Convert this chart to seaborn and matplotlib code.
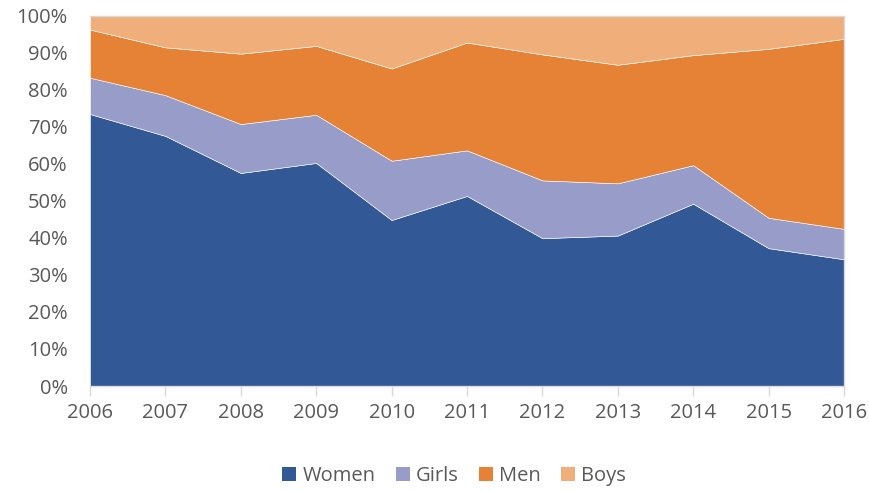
import matplotlib
matplotlib.use("Agg")
import matplotlib.pyplot as plt
import seaborn as sns
import numpy as np
import pandas as pd
from matplotlib.ticker import FuncFormatter
from matplotlib.patches import Patch

years = [2006, 2007, 2008, 2009, 2010, 2011, 2012, 2013, 2014, 2015, 2016]
women = [73.4, 67.5, 57.5, 60.2, 44.8, 51.3, 39.9, 40.6, 49.2, 37.2, 34.2]
girls = [9.8, 11.0, 13.2, 13.0, 16.0, 12.3, 15.6, 14.1, 10.4, 8.2, 8.2]
men = [13.0, 12.9, 19.0, 18.6, 24.9, 29.1, 34.0, 32.0, 29.7, 45.6, 51.3]
boys = [3.8, 8.6, 10.3, 8.2, 14.3, 7.3, 10.5, 13.3, 10.7, 9.0, 6.3]
series_names = ["Women", "Girls", "Men", "Boys"]
colors = ["#325895", "#979CC8", "#E68235", "#F0AE7B"]

df = pd.DataFrame({"Year": years, "Women": women, "Girls": girls, "Men": men, "Boys": boys})
tot = df[series_names].sum(axis=1)
shares = df[series_names].div(tot, axis=0)

sns.set_theme(style="white")
plt.rcParams['font.family'] = ['Open Sans', 'DejaVu Sans']

fig = plt.figure(figsize=(8.69, 4.91), dpi=100)
ax = fig.add_axes([90/869, 1-386/491, (844-90)/869, (386-15.5)/491])
ax.stackplot(df["Year"], *[shares[c] for c in series_names], colors=colors,
             labels=series_names, edgecolor="white", linewidth=0.4)

ax.set_xlim(2006, 2016)
ax.set_ylim(0, 1)
ax.set_xticks(years)
ax.set_yticks(np.arange(0, 1.01, 0.1))
ax.yaxis.set_major_formatter(FuncFormatter(lambda v, p: f"{v*100:.0f}%"))
ax.tick_params(axis="x", direction="out", length=7, width=1, color="#D9D9D9",
               labelsize=14.5, labelcolor="#595959", pad=5)
ax.tick_params(axis="y", length=0, labelsize=14.5, labelcolor="#595959", pad=16)
ax.xaxis.set_ticks_position("bottom")
for s in ["top", "right", "left", "bottom"]:
    ax.spines[s].set_color("#D9D9D9")
    ax.spines[s].set_linewidth(1)
ax.spines["left"].set_visible(False)
ax.set_xlabel("")
ax.set_ylabel("")

handles = [Patch(facecolor=c, edgecolor="none") for c in colors]
fig.legend(handles, series_names, loc="center", bbox_to_anchor=(454/869, 1-476/491),
           ncol=4, frameon=False, fontsize=14.5, labelcolor="#595959",
           handlelength=0.7, handleheight=0.7, handletextpad=0.3, columnspacing=1.0)

fig.savefig("out.png", dpi=100)
